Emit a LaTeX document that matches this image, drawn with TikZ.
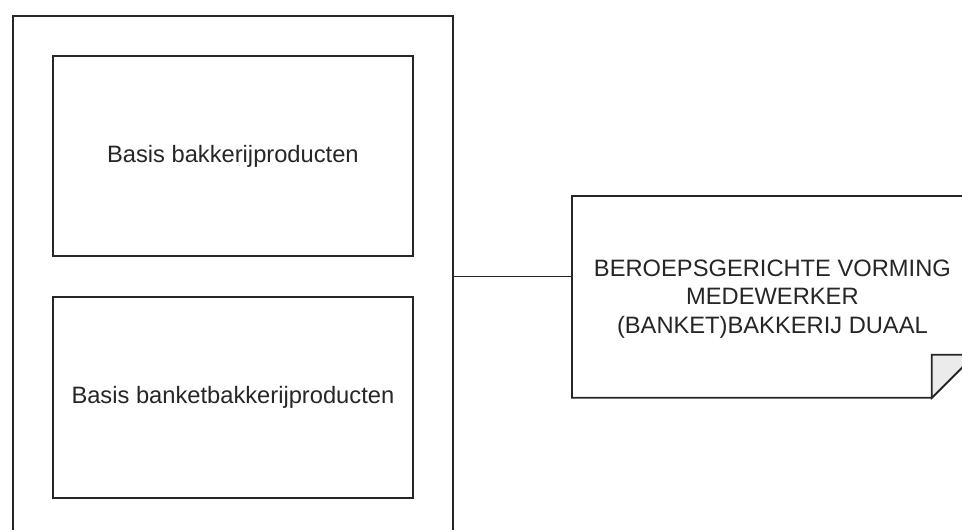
\documentclass[tikz,border=0pt]{standalone}
\usepackage{fontspec}
\setmainfont{Liberation Sans}
\begin{document}
\begin{tikzpicture}[x=1pt,y=-1pt,
  line/.style={draw=black!85, line width=1.8pt},
  box/.style={line, rectangle, inner sep=0pt, align=center, text=black!85,
    font=\fontsize{23.7}{28.5}\selectfont},
]
\useasboundingbox (0,0) rectangle (962,530);
\clip (0,0) rectangle (962,530);
\node[box, minimum width=440pt, minimum height=521pt, anchor=north west] (outer) at (12,15) {};
\node[box, minimum width=360pt, minimum height=200pt, anchor=north west] (box1) at (52,55) {Basis bakkerijproducten};
\node[box, minimum width=360pt, minimum height=201pt, anchor=north west] (box2) at (52,296) {Basis banketbakkerijproducten};
% note shape with folded corner
\node[box, draw=none, minimum width=401pt, minimum height=200pt, anchor=north west] (note) at (572,196) {};
\draw[line, fill=white] (note.north west) -- (note.north east) -- ([yshift=43pt]note.south east)
  -- ([xshift=-43pt]note.south east) -- (note.south west) -- cycle;
\draw[line, fill=black!8] ([xshift=-43pt]note.south east) -- ([xshift=-43pt,yshift=43pt]note.south east)
  -- ([yshift=43pt]note.south east) -- cycle;
\node[box, draw=none] (notetext) at ([xshift=-1pt,yshift=-2pt]note.center) {BEROEPSGERICHTE VORMING\\MEDEWERKER\\(BANKET)BAKKERIJ DUAAL};
\draw[line] (outer.east) -- (outer.east -| note.west);
\end{tikzpicture}
\end{document}
